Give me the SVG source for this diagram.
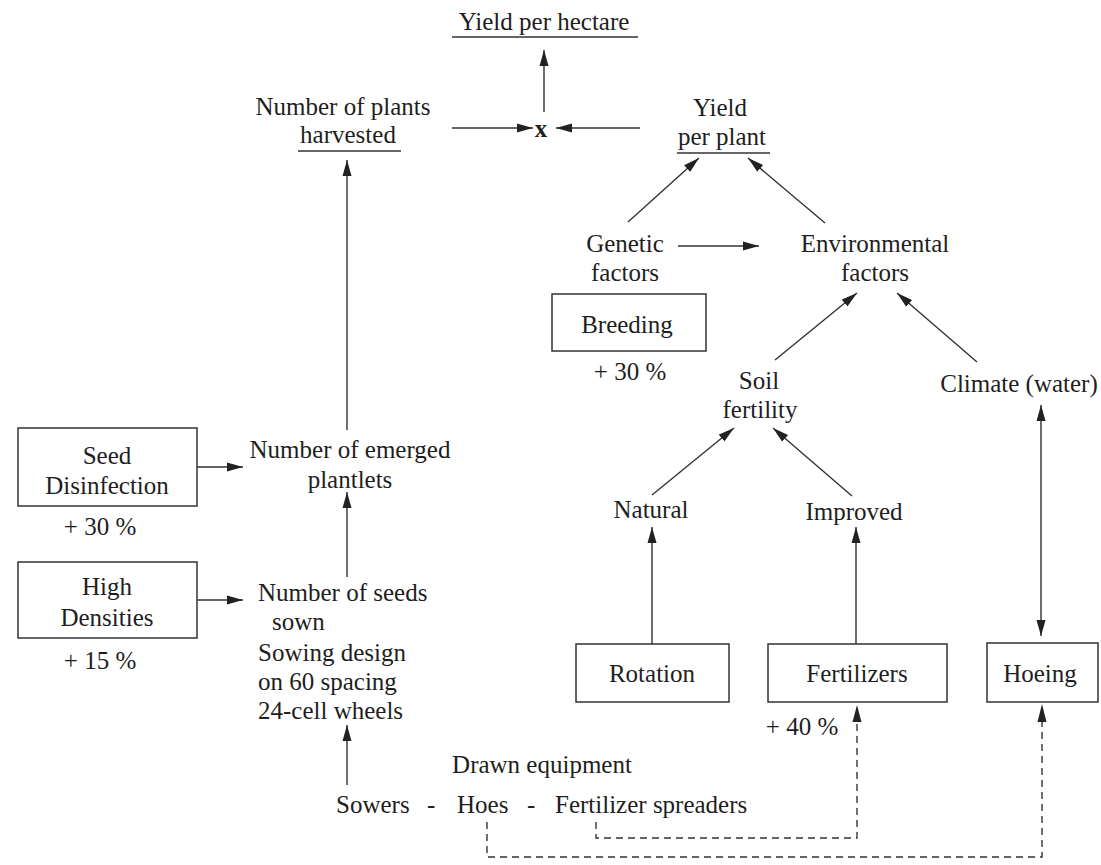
<svg xmlns="http://www.w3.org/2000/svg" width="1101" height="865" viewBox="0 0 1101 865">
<defs>
<marker id="ah" markerUnits="userSpaceOnUse" markerWidth="18" markerHeight="11" refX="16" refY="5" orient="auto-start-reverse" viewBox="0 0 18 11">
<path d="M0,0.5 L16,5 L0,9.5 z" fill="#222"/>
</marker>
<style>
text{font-family:"Liberation Serif","Times New Roman",serif;font-size:25px;fill:#1e1e1e}
.c{text-anchor:middle}
.box{fill:none;stroke:#333;stroke-width:1.5}
.ln{stroke:#333;stroke-width:1.4;fill:none}
.ar{stroke:#333;stroke-width:1.4;fill:none;marker-end:url(#ah)}
.da{stroke:#333;stroke-width:1.4;fill:none;stroke-dasharray:7 5}
</style>
</defs>
<rect width="1101" height="865" fill="#fff"/>

<g id="yield-hectare">
<text class="c" x="544" y="30">Yield per hectare</text>
<line class="ln" x1="452" y1="37" x2="638" y2="37"/>
</g>
<g id="times">
<text class="c" x="541" y="137" font-weight="bold" style="font-size:25px">x</text>
</g>
<g id="plants-harvested">
<text class="c" x="343" y="115">Number of plants</text>
<text class="c" x="348" y="143">harvested</text>
<line class="ln" x1="298" y1="151" x2="401" y2="151"/>
</g>
<g id="yield-plant">
<text class="c" x="720" y="116">Yield</text>
<text class="c" x="722" y="145">per plant</text>
<line class="ln" x1="677" y1="153" x2="770" y2="153"/>
</g>
<g id="genetic">
<text class="c" x="625" y="252">Genetic</text>
<text class="c" x="625" y="281">factors</text>
</g>
<g id="environmental">
<text class="c" x="875" y="252">Environmental</text>
<text class="c" x="875" y="281">factors</text>
</g>
<g id="breeding">
<rect class="box" x="552" y="294" width="154" height="57"/>
<text class="c" x="627" y="333">Breeding</text>
<text class="c" x="630" y="380">+ 30 %</text>
</g>
<g id="soil">
<text class="c" x="759" y="389">Soil</text>
<text class="c" x="760" y="418">fertility</text>
</g>
<g id="climate">
<text class="c" x="1019" y="392">Climate (water)</text>
</g>
<g id="natural">
<text class="c" x="651" y="518">Natural</text>
</g>
<g id="improved">
<text class="c" x="854" y="520">Improved</text>
</g>
<g id="rotation">
<rect class="box" x="576" y="644" width="153" height="58"/>
<text class="c" x="652" y="682">Rotation</text>
</g>
<g id="fertilizers">
<rect class="box" x="768" y="644" width="179" height="58"/>
<text class="c" x="857" y="682">Fertilizers</text>
<text class="c" x="802" y="735">+ 40 %</text>
</g>
<g id="hoeing">
<rect class="box" x="987" y="643" width="111" height="59"/>
<text class="c" x="1040" y="682">Hoeing</text>
</g>
<g id="seed-disinfection">
<rect class="box" x="18" y="428" width="179" height="78"/>
<text class="c" x="107" y="464">Seed</text>
<text class="c" x="107" y="494">Disinfection</text>
<text class="c" x="100" y="535">+ 30 %</text>
</g>
<g id="high-densities">
<rect class="box" x="18" y="562" width="179" height="76"/>
<text class="c" x="107" y="595">High</text>
<text class="c" x="107" y="626">Densities</text>
<text class="c" x="100" y="669">+ 15 %</text>
</g>
<g id="emerged">
<text class="c" x="350" y="458">Number of emerged</text>
<text class="c" x="350" y="488">plantlets</text>
</g>
<g id="seeds-sown">
<text x="258" y="601">Number of seeds</text>
<text x="272" y="630">sown</text>
<text x="258" y="661">Sowing design</text>
<text x="258" y="690">on 60 spacing</text>
<text x="258" y="719">24-cell wheels</text>
</g>
<g id="equipment">
<text class="c" x="542" y="773">Drawn equipment</text>
<text y="813"><tspan x="336">Sowers</tspan><tspan x="427">-</tspan><tspan x="457">Hoes</tspan><tspan x="527">-</tspan><tspan x="555">Fertilizer spreaders</tspan></text>
</g>

<g id="connectors">
<line class="ar" x1="544" y1="112" x2="544" y2="50"/>
<line class="ar" x1="452" y1="128" x2="533" y2="128"/>
<line class="ar" x1="640" y1="128" x2="556" y2="128"/>
<line class="ar" x1="347" y1="430" x2="347" y2="160"/>
<line class="ar" x1="628" y1="222" x2="699" y2="158"/>
<line class="ar" x1="825" y1="223" x2="748" y2="158"/>
<line class="ar" x1="678" y1="246" x2="759" y2="246"/>
<line class="ar" x1="775" y1="360" x2="857" y2="293"/>
<line class="ar" x1="977" y1="362" x2="897" y2="293"/>
<line class="ar" x1="652" y1="495" x2="734" y2="428"/>
<line class="ar" x1="852" y1="496" x2="773" y2="428"/>
<line class="ar" x1="652" y1="644" x2="652" y2="527"/>
<line class="ar" x1="856" y1="644" x2="856" y2="527"/>
<line class="ar" x1="1041" y1="405" x2="1041" y2="636" style="marker-start:url(#ah)"/>
<line class="ar" x1="197" y1="467" x2="243" y2="467"/>
<line class="ar" x1="197" y1="600" x2="243" y2="600"/>
<line class="ar" x1="347" y1="577" x2="347" y2="492"/>
<line class="ar" x1="347" y1="785" x2="347" y2="725"/>
<polyline class="da" points="596,822 596,838 857,838 857,722"/>
<path d="M857,705 L852.5,722 L861.5,722 z" fill="#222"/>
<polyline class="da" points="487,822 487,857 1042,857 1042,722"/>
<path d="M1042,704 L1037.5,722 L1046.5,722 z" fill="#222"/>
</g>
</svg>
